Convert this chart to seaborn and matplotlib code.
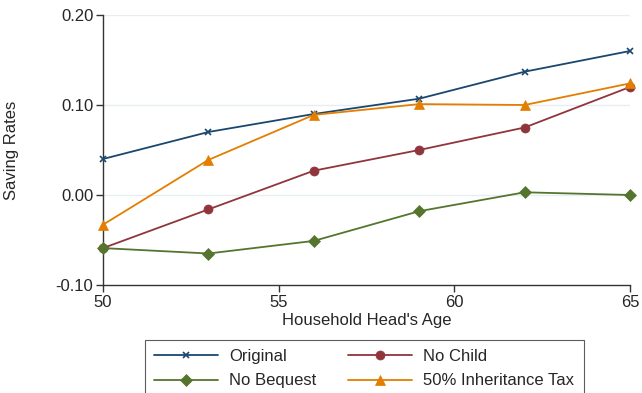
import matplotlib
matplotlib.use("Agg")
import matplotlib.pyplot as plt
import seaborn as sns
import pandas as pd

sns.set_style("white")
plt.rcParams['font.family'] = ['Liberation Sans', 'DejaVu Sans']

ages = [50, 53, 56, 59, 62, 65]
original = [0.040, 0.070, 0.090, 0.107, 0.137, 0.160]
no_child = [-0.059, -0.016, 0.027, 0.050, 0.075, 0.120]
no_bequest = [-0.059, -0.065, -0.051, -0.018, 0.003, 0.000]
inheritance_tax = [-0.033, 0.039, 0.089, 0.101, 0.100, 0.124]

series = ["Original", "No Child", "No Bequest", "50% Inheritance Tax"]
df = pd.DataFrame({
    "age": ages * 4,
    "rate": original + no_child + no_bequest + inheritance_tax,
    "scenario": sum([[s] * len(ages) for s in series], []),
})

palette = {"Original": "#1a476f", "No Child": "#90353b",
           "No Bequest": "#55752f", "50% Inheritance Tax": "#e37e00"}
markers = {"Original": "x", "No Child": "o",
           "No Bequest": "D", "50% Inheritance Tax": "^"}
sizes = {"Original": 4, "No Child": 6.5, "No Bequest": 6.5, "50% Inheritance Tax": 7.5}

fig = plt.figure(figsize=(6.42, 3.93), dpi=100)
ax = fig.add_axes([103 / 642, 1 - 285 / 393, (630 - 103) / 642, (285 - 15) / 393])

for s in series:
    sub = df[df.scenario == s]
    sns.lineplot(data=sub, x="age", y="rate", ax=ax, color=palette[s],
                 marker=markers[s], markersize=sizes[s], linewidth=1.3,
                 markeredgecolor=palette[s], markeredgewidth=1.2 if s == "Original" else 0.5,
                 label=s, legend=False, clip_on=False, zorder=3)

ax.set_xlim(50, 65)
ax.set_ylim(-0.10, 0.20)
ax.set_xticks([50, 55, 60, 65])
ax.set_yticks([-0.10, 0.00, 0.10, 0.20])
ax.set_yticklabels(["-0.10", "0.00", "0.10", "0.20"])
for y in [0.0, 0.10, 0.20]:
    ax.axhline(y, color="#e6eef2", linewidth=1.0, zorder=0)
ax.set_xlabel("Household Head's Age", fontsize=12, labelpad=2)
ax.set_ylabel("Saving Rates", fontsize=12, labelpad=26)
ax.tick_params(axis="both", labelsize=12, length=5, width=1, color="#333333",
               direction="out", bottom=True, left=True, pad=2)
for side in ["top", "right"]:
    ax.spines[side].set_visible(False)
for side in ["left", "bottom"]:
    ax.spines[side].set_color("#333333")
    ax.spines[side].set_linewidth(1.0)
ax.set_facecolor("white")

handles, labels = ax.get_legend_handles_labels()
# two columns filled row by row
order = [0, 2, 1, 3]
leg = fig.legend([handles[i] for i in order], [labels[i] for i in order],
                 loc="upper left", bbox_to_anchor=(145 / 642, 1 - 340 / 393),
                 borderaxespad=0, ncol=2, fontsize=12, frameon=True, fancybox=False,
                 edgecolor="#333333", handlelength=3.85, handletextpad=0.66,
                 columnspacing=1.9, borderpad=0.55, labelspacing=0.55)
leg.get_frame().set_linewidth(0.8)

fig.savefig("out.png", dpi=100)
